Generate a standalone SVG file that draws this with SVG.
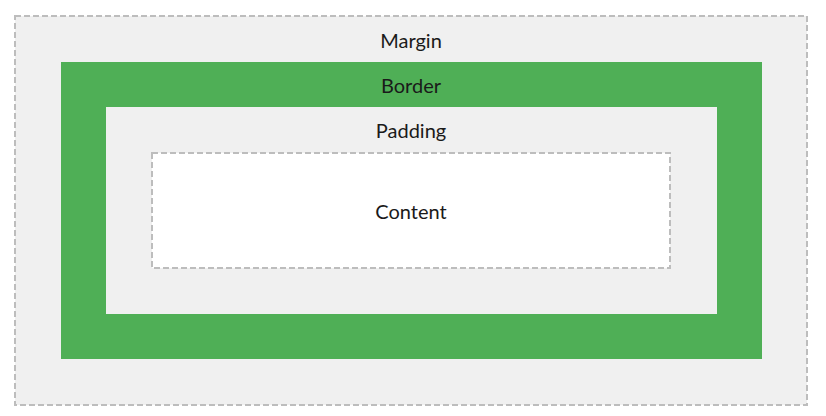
<svg xmlns="http://www.w3.org/2000/svg" width="826" height="416" viewBox="0 0 826 416">
<style>
.lbl{font-family:Lato,"Liberation Sans",sans-serif;font-size:20px;fill:#1a1a1a;text-anchor:middle}
.dash{fill:none;stroke:#bdbdbd;stroke-width:2;stroke-dasharray:6 3}
</style>
<rect width="826" height="416" fill="#ffffff"/>
<g id="margin">
<rect x="15" y="16" width="792" height="389" fill="#f0f0f0"/>
<rect x="15" y="16" width="792" height="389" class="dash"/>
<text x="411" y="48" class="lbl">Margin</text>
</g>
<g id="border">
<rect x="61" y="62" width="701" height="297" fill="#4faf56"/>
<text x="411" y="93" class="lbl">Border</text>
</g>
<g id="padding">
<rect x="106" y="107" width="611" height="207" fill="#f0f0f0"/>
<text x="411" y="138" class="lbl">Padding</text>
</g>
<g id="content">
<rect x="152" y="153" width="518" height="115" fill="#ffffff"/>
<rect x="152" y="153" width="518" height="115" class="dash"/>
<text x="411" y="219" class="lbl">Content</text>
</g>
<g id="connectors"/>
</svg>
